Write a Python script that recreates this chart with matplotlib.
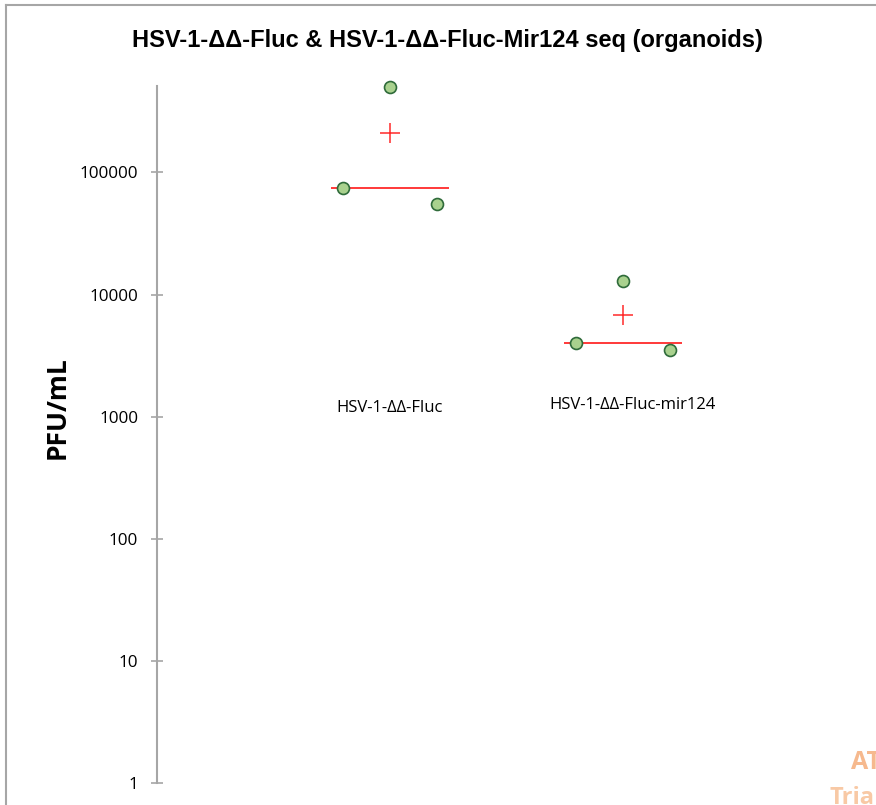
import numpy as np
import matplotlib
matplotlib.use("Agg")
import matplotlib.pyplot as plt
from matplotlib.lines import Line2D
from matplotlib.ticker import FixedLocator, FixedFormatter, NullLocator

plt.rcParams['font.family'] = ['Open Sans', 'DejaVu Sans']

# Data
categories = ["HSV-1-ΔΔ-Fluc", "HSV-1-ΔΔ-Fluc-mir124"]
fluc_pfu = [75000, 500000, 55000]
mir124_pfu = [4000, 13000, 3500]
series = [fluc_pfu, mir124_pfu]
y_ticks = [1, 10, 100, 1000, 10000, 100000]
y_tick_labels = ["1", "10", "100", "1000", "10000", "100000"]

W, H = 876, 805
fig = plt.figure(figsize=(W / 100, H / 100), dpi=100)

# axes placed in pixel units
left_px, right_px, top_px, bottom_px = 157, 856, 86, 783
ax = fig.add_axes([left_px / W, 1 - bottom_px / H,
                   (right_px - left_px) / W, (bottom_px - top_px) / H])
ax.set_yscale('log')
ax.set_ylim(1, 5.1e5)
ax.set_xlim(0, 3)

axis_grey = '#a6a6a6'
for s in ['top', 'right', 'bottom']:
    ax.spines[s].set_visible(False)
ax.spines['left'].set_color(axis_grey)
ax.spines['left'].set_linewidth(1.5)

ax.yaxis.set_major_locator(FixedLocator(y_ticks))
ax.yaxis.set_major_formatter(FixedFormatter(y_tick_labels))
ax.yaxis.set_minor_locator(NullLocator())
ax.tick_params(axis='y', direction='inout', length=9, width=1.2,
               color=axis_grey, labelsize=12.3, labelcolor='#000000', pad=9)
ax.set_xticks([])

offsets = [-0.2, 0.0, 0.2]
for i, vals in enumerate(series):
    xc = i + 1
    xs = [xc + o for o in offsets]
    ax.plot(xs, vals, linestyle='none', marker='o', markersize=8.6,
            markerfacecolor='#a9d18e', markeredgecolor='#2f6b3a',
            markeredgewidth=1.2, clip_on=False, zorder=4)
    med = float(np.median(vals))
    mean = float(np.mean(vals))
    ax.plot([xc - 0.253, xc + 0.253], [med, med], color='#ff2a2a',
            linewidth=1.3, zorder=3, solid_capstyle='butt')
    ax.plot([xc], [mean], linestyle='none', marker='+', markersize=15,
            markeredgewidth=1.1, color='#ff2a2a', zorder=5)

# category labels
label_x = [1.0, 2.04]
label_y = [1180, 1250]
for cat, lx, ly in zip(categories, label_x, label_y):
    ax.text(lx, ly, cat, ha='center', va='center', fontsize=12, color='#000000')

ax.set_ylabel("PFU/mL", fontsize=19, fontweight='bold')
ax.yaxis.set_label_coords(-(left_px - 71) / (right_px - left_px),
                          1 - (408 - top_px) / (bottom_px - top_px))

fig.text(447 / W, 1 - 41 / H, "HSV-1-ΔΔ-Fluc & HSV-1-ΔΔ-Fluc-Mir124 seq (organoids)",
         ha='center', va='center', fontsize=17, fontweight='bold',
         family=['Liberation Sans', 'DejaVu Sans'])

# chart frame (top and left edges)
fig.add_artist(Line2D([6 / W, 6 / W], [0, 1 - 5 / H], transform=fig.transFigure,
                      color='#a6a6a6', linewidth=1.5))
fig.add_artist(Line2D([6 / W, 1], [1 - 5 / H, 1 - 5 / H], transform=fig.transFigure,
                      color='#a6a6a6', linewidth=1.5))

# faint logo in the corner
fig.text(829 / W, 1 - 786 / H, "Tria", ha='left', va='top', fontsize=17,
         fontweight='bold', color='#f8c9a5', family=['Open Sans', 'DejaVu Sans'])
fig.text(851 / W, 1 - 750 / H, "AT", ha='left', va='top', fontsize=18,
         fontweight='bold', color='#f6b98e', family=['Open Sans', 'DejaVu Sans'])

fig.savefig("out.png", dpi=100, facecolor='white')
